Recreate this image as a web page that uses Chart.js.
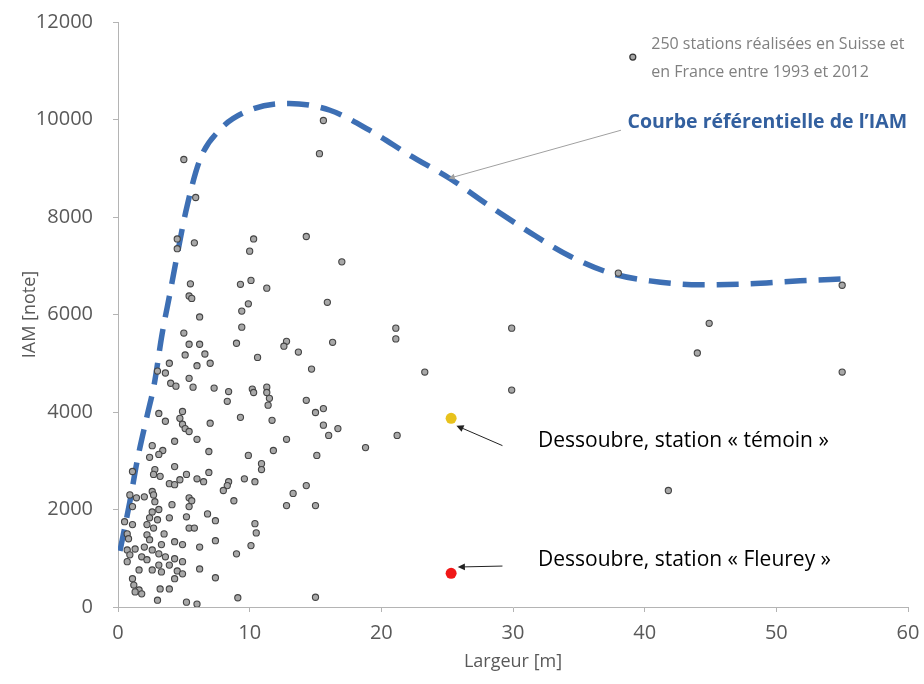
<!DOCTYPE html>
<html lang="fr">
<head>
<meta charset="utf-8">
<title>IAM en fonction de la largeur</title>
<script src="https://cdn.jsdelivr.net/npm/chart.js@4.4.0/dist/chart.umd.min.js"></script>
<style>
  html, body { margin: 0; padding: 0; background: #fff; }
  #wrap { width: 924px; height: 684px; position: relative; }
</style>
</head>
<body>
<div id="wrap"><canvas id="iamChart"></canvas></div>
<script>
// 250 stations (Suisse + France, 1993-2012) : largeur [m] et IAM [note]
const stationLargeur = [
  55.0, 55.0, 44.9, 44.0, 38.0, 41.8, 29.9, 29.9, 23.3, 21.1, 21.1, 21.2, 18.8,
  15.6, 15.3, 14.3, 17.0, 10.3, 10.0, 5.0, 5.9,
  9.3, 10.1, 11.3, 15.9, 9.9, 9.4, 9.4, 9.0, 12.8, 12.6, 16.3, 13.7, 10.6, 6.6, 7.0, 6.2, 6.2,
  14.7, 7.3, 8.4, 8.3, 10.2, 10.3, 11.3, 11.3, 11.5, 11.4, 14.3, 15.0, 15.6, 7.0, 9.3, 11.7,
  15.6, 16.7, 16.0, 12.8, 6.9, 11.8, 9.9, 15.1, 10.9, 10.9, 6.9, 6.5, 9.6, 10.4, 8.4, 8.3,
  8.0, 14.3, 13.3, 8.8, 12.8, 15.0, 6.8, 7.4, 10.4, 10.5, 7.4, 10.1, 9.0, 7.4, 9.1, 15.0,
  6.2, 6.2,
  4.5, 4.5, 5.8, 5.5, 5.4, 5.6, 5.0, 5.4, 5.1, 3.9, 6.0, 3.0, 3.6, 5.4, 4.0, 4.4, 5.7,
  3.1, 3.6, 4.9, 4.7, 4.9, 5.1, 5.4, 6.0, 4.3, 2.6, 3.4, 3.1, 2.4, 4.3, 2.8, 2.7, 3.2,
  5.2, 6.0, 3.9, 4.7, 4.3, 1.1, 2.6,
  0.9, 1.4, 2.0, 2.7, 2.8, 5.4, 5.6, 5.4, 4.1, 1.1, 2.6, 3.1, 2.4, 3.0, 3.9, 5.2, 5.4,
  5.8, 0.5, 1.1, 2.2, 2.7, 3.5, 0.7, 0.8, 2.2, 2.4, 4.3, 4.9, 0.7, 1.3, 2.0, 2.6, 3.1,
  3.3, 0.9, 1.8, 3.6, 4.3, 4.9, 0.7, 2.2, 3.1, 3.9, 1.6, 2.6, 3.3, 4.5, 4.9, 4.3, 1.1,
  1.2, 1.6, 1.8, 1.3, 3.2, 3.9, 3.0, 5.2, 6.0
];
const stationIAM = [
  6600, 4820, 5820, 5210, 6850, 2390, 5720, 4450, 4820, 5720, 5500, 3520, 3270,
  9980, 9300, 7600, 7080, 7550, 7300, 9180, 8400,
  6620, 6700, 6540, 6250, 6220, 6070, 5740, 5410, 5450, 5350, 5430, 5230, 5120, 5190, 5000, 5390, 5950,
  4880, 4490, 4420, 4220, 4470, 4400, 4510, 4400, 4280, 4140, 4240, 3990, 4070, 3770, 3890, 3830,
  3730, 3660, 3520, 3440, 3190, 3210, 3110, 3110, 2940, 2820, 2760, 2570, 2630, 2570, 2570, 2490,
  2390, 2490, 2330, 2180, 2080, 2080, 1910, 1770, 1710, 1520, 1360, 1260, 1090, 600, 190, 200,
  1230, 780,
  7550, 7350, 7470, 6630, 6380, 6330, 5620, 5390, 5170, 5000, 4950, 4840, 4800, 4690, 4590, 4530, 4510,
  3970, 3810, 4010, 3870, 3750, 3660, 3600, 3440, 3400, 3310, 3210, 3130, 3070, 2880, 2820, 2720, 2680,
  2720, 2630, 2530, 2610, 2510, 2780, 2370,
  2300, 2240, 2260, 2300, 2160, 2240, 2180, 2060, 2100, 2060, 1950, 2000, 1830, 1790, 1830, 1850, 1620,
  1620, 1750, 1690, 1690, 1620, 1500, 1500, 1400, 1480, 1380, 1340, 1280, 1170, 1190, 1230, 1170, 1090,
  1280, 1070, 1030, 1030, 990, 930, 930, 970, 860, 860, 760, 760, 720, 740, 680, 580, 580,
  450, 350, 270, 310, 370, 370, 140, 100, 60
];

// stations de la Dessoubre
const temoinLargeur = [25.3];
const temoinIAM = [3870];
const fleureyLargeur = [25.3];
const fleureyIAM = [690];

// courbe référentielle de l'IAM
const courbeLargeur = [0.15, 0.9, 1.45, 2.2, 2.75, 3.35, 3.95, 4.55, 5.15, 6.2, 7.7, 10, 13, 16.1, 19.1, 22.2, 25.2, 28.2, 31.3, 34.3, 37.4, 40.4, 44.2, 48, 51.8, 55.2];
const courbeIAM = [1150, 2160, 2990, 3910, 4570, 5600, 6440, 7300, 8110, 9160, 9780, 10190, 10330, 10190, 9780, 9260, 8790, 8230, 7680, 7200, 6850, 6690, 6610, 6630, 6690, 6730];

const xTicks = [0, 10, 20, 30, 40, 50, 60];
const yTicks = [0, 2000, 4000, 6000, 8000, 10000, 12000];

const FONT = "'Open Sans', 'DejaVu Sans', sans-serif";

function pairs(xs, ys) {
  return xs.map((x, i) => ({ x: x, y: ys[i] }));
}

function drawArrow(ctx, x1, y1, x2, y2, color, width, head) {
  const ang = Math.atan2(y2 - y1, x2 - x1);
  ctx.save();
  ctx.strokeStyle = color;
  ctx.fillStyle = color;
  ctx.lineWidth = width;
  ctx.beginPath();
  ctx.moveTo(x1, y1);
  ctx.lineTo(x2 - Math.cos(ang) * head * 0.8, y2 - Math.sin(ang) * head * 0.8);
  ctx.stroke();
  ctx.beginPath();
  ctx.moveTo(x2, y2);
  ctx.lineTo(x2 - head * Math.cos(ang - 0.45), y2 - head * Math.sin(ang - 0.45));
  ctx.lineTo(x2 - head * Math.cos(ang + 0.45), y2 - head * Math.sin(ang + 0.45));
  ctx.closePath();
  ctx.fill();
  ctx.restore();
}

// textes et flèches posés en coordonnées de données
const annotations = {
  id: 'annotations',
  afterDatasetsDraw(chart) {
    const { ctx, scales: { x, y } } = chart;
    const px = v => x.getPixelForValue(v);
    const py = v => y.getPixelForValue(v);

    ctx.save();
    ctx.textBaseline = 'middle';
    ctx.textAlign = 'left';

    // légende des stations
    ctx.beginPath();
    ctx.arc(px(39.1), py(11280), 3, 0, Math.PI * 2);
    ctx.fillStyle = '#a6a6a6';
    ctx.fill();
    ctx.lineWidth = 1.2;
    ctx.strokeStyle = '#333';
    ctx.stroke();
    ctx.fillStyle = '#808080';
    ctx.font = '16px ' + FONT;
    ctx.fillText('250 stations réalisées en Suisse et', px(40.5), py(11550));
    ctx.fillText('en France entre 1993 et 2012', px(40.5), py(10970));

    // courbe référentielle
    ctx.fillStyle = '#33609f';
    ctx.font = 'bold 19.5px ' + FONT;
    ctx.fillText('Courbe référentielle de l\u2019IAM', px(38.7), py(9940));
    drawArrow(ctx, px(38.2), py(9780), px(25.1), py(8790), '#a0a0a0', 1, 7);

    // stations de la Dessoubre
    ctx.fillStyle = '#000';
    ctx.font = '21px ' + FONT;
    ctx.fillText('Dessoubre, station « témoin »', px(31.9), py(3400));
    ctx.fillText('Dessoubre, station « Fleurey »', px(31.9), py(970));
    drawArrow(ctx, px(29.2), py(3310), px(25.7), py(3720), '#222', 1, 8);
    drawArrow(ctx, px(29.2), py(840), px(25.8), py(820), '#222', 1, 8);
    ctx.restore();
  }
};

const ctx = document.getElementById('iamChart').getContext('2d');
new Chart(ctx, {
  type: 'scatter',
  data: {
    datasets: [
      {
        label: 'Dessoubre, station « Fleurey »',
        data: pairs(fleureyLargeur, fleureyIAM),
        pointRadius: 5.5,
        pointBackgroundColor: '#f01818',
        pointBorderWidth: 0,
        order: 0
      },
      {
        label: 'Dessoubre, station « témoin »',
        data: pairs(temoinLargeur, temoinIAM),
        pointRadius: 5.5,
        pointBackgroundColor: '#e8c21c',
        pointBorderWidth: 0,
        order: 0
      },
      {
        label: '250 stations',
        data: pairs(stationLargeur, stationIAM),
        pointRadius: 3.1,
        pointBackgroundColor: '#a8a8a8',
        pointBorderColor: '#444',
        pointBorderWidth: 1.1,
        order: 1
      },
      {
        type: 'line',
        label: 'Courbe référentielle de l\u2019IAM',
        data: pairs(courbeLargeur, courbeIAM),
        borderColor: '#3d6fb4',
        borderWidth: 5.5,
        borderDash: [22, 12],
        pointRadius: 0,
        tension: 0.4,
        cubicInterpolationMode: 'monotone',
        fill: false,
        order: 2
      }
    ]
  },
  options: {
    responsive: true,
    maintainAspectRatio: false,
    animation: false,
    layout: { padding: { top: 22, right: 16, left: 0, bottom: 0 } },
    plugins: {
      legend: { display: false },
      tooltip: { enabled: false }
    },
    scales: {
      x: {
        type: 'linear',
        min: 0,
        max: 60,
        afterBuildTicks: s => { s.ticks = xTicks.map(v => ({ value: v })); },
        afterFit: s => { s.height = 77; s.paddingLeft = 0; s.paddingRight = 0; },
        grid: { display: true, drawOnChartArea: false, drawTicks: true, tickLength: 5, color: '#b4b4b4' },
        border: { color: '#b4b4b4', width: 1 },
        ticks: { color: '#595959', font: { family: FONT, size: 20 }, padding: 9 },
        title: { display: true, text: 'Largeur [m]', color: '#595959', font: { family: FONT, size: 18 }, padding: { top: 0, bottom: 11 } }
      },
      y: {
        type: 'linear',
        min: 0,
        max: 12000,
        afterBuildTicks: s => { s.ticks = yTicks.map(v => ({ value: v })); },
        afterFit: s => { s.width = 118; s.paddingTop = 0; s.paddingBottom = 0; },
        grid: { display: true, drawOnChartArea: false, drawTicks: true, tickLength: 5, color: '#b4b4b4' },
        border: { color: '#b4b4b4', width: 1 },
        ticks: { color: '#595959', font: { family: FONT, size: 20 }, padding: 20, callback: v => String(v) },
        title: { display: true, text: 'IAM [note]', color: '#595959', font: { family: FONT, size: 18 }, padding: { top: 19, bottom: 0 } }
      }
    }
  },
  plugins: [annotations]
});
</script>
</body>
</html>
